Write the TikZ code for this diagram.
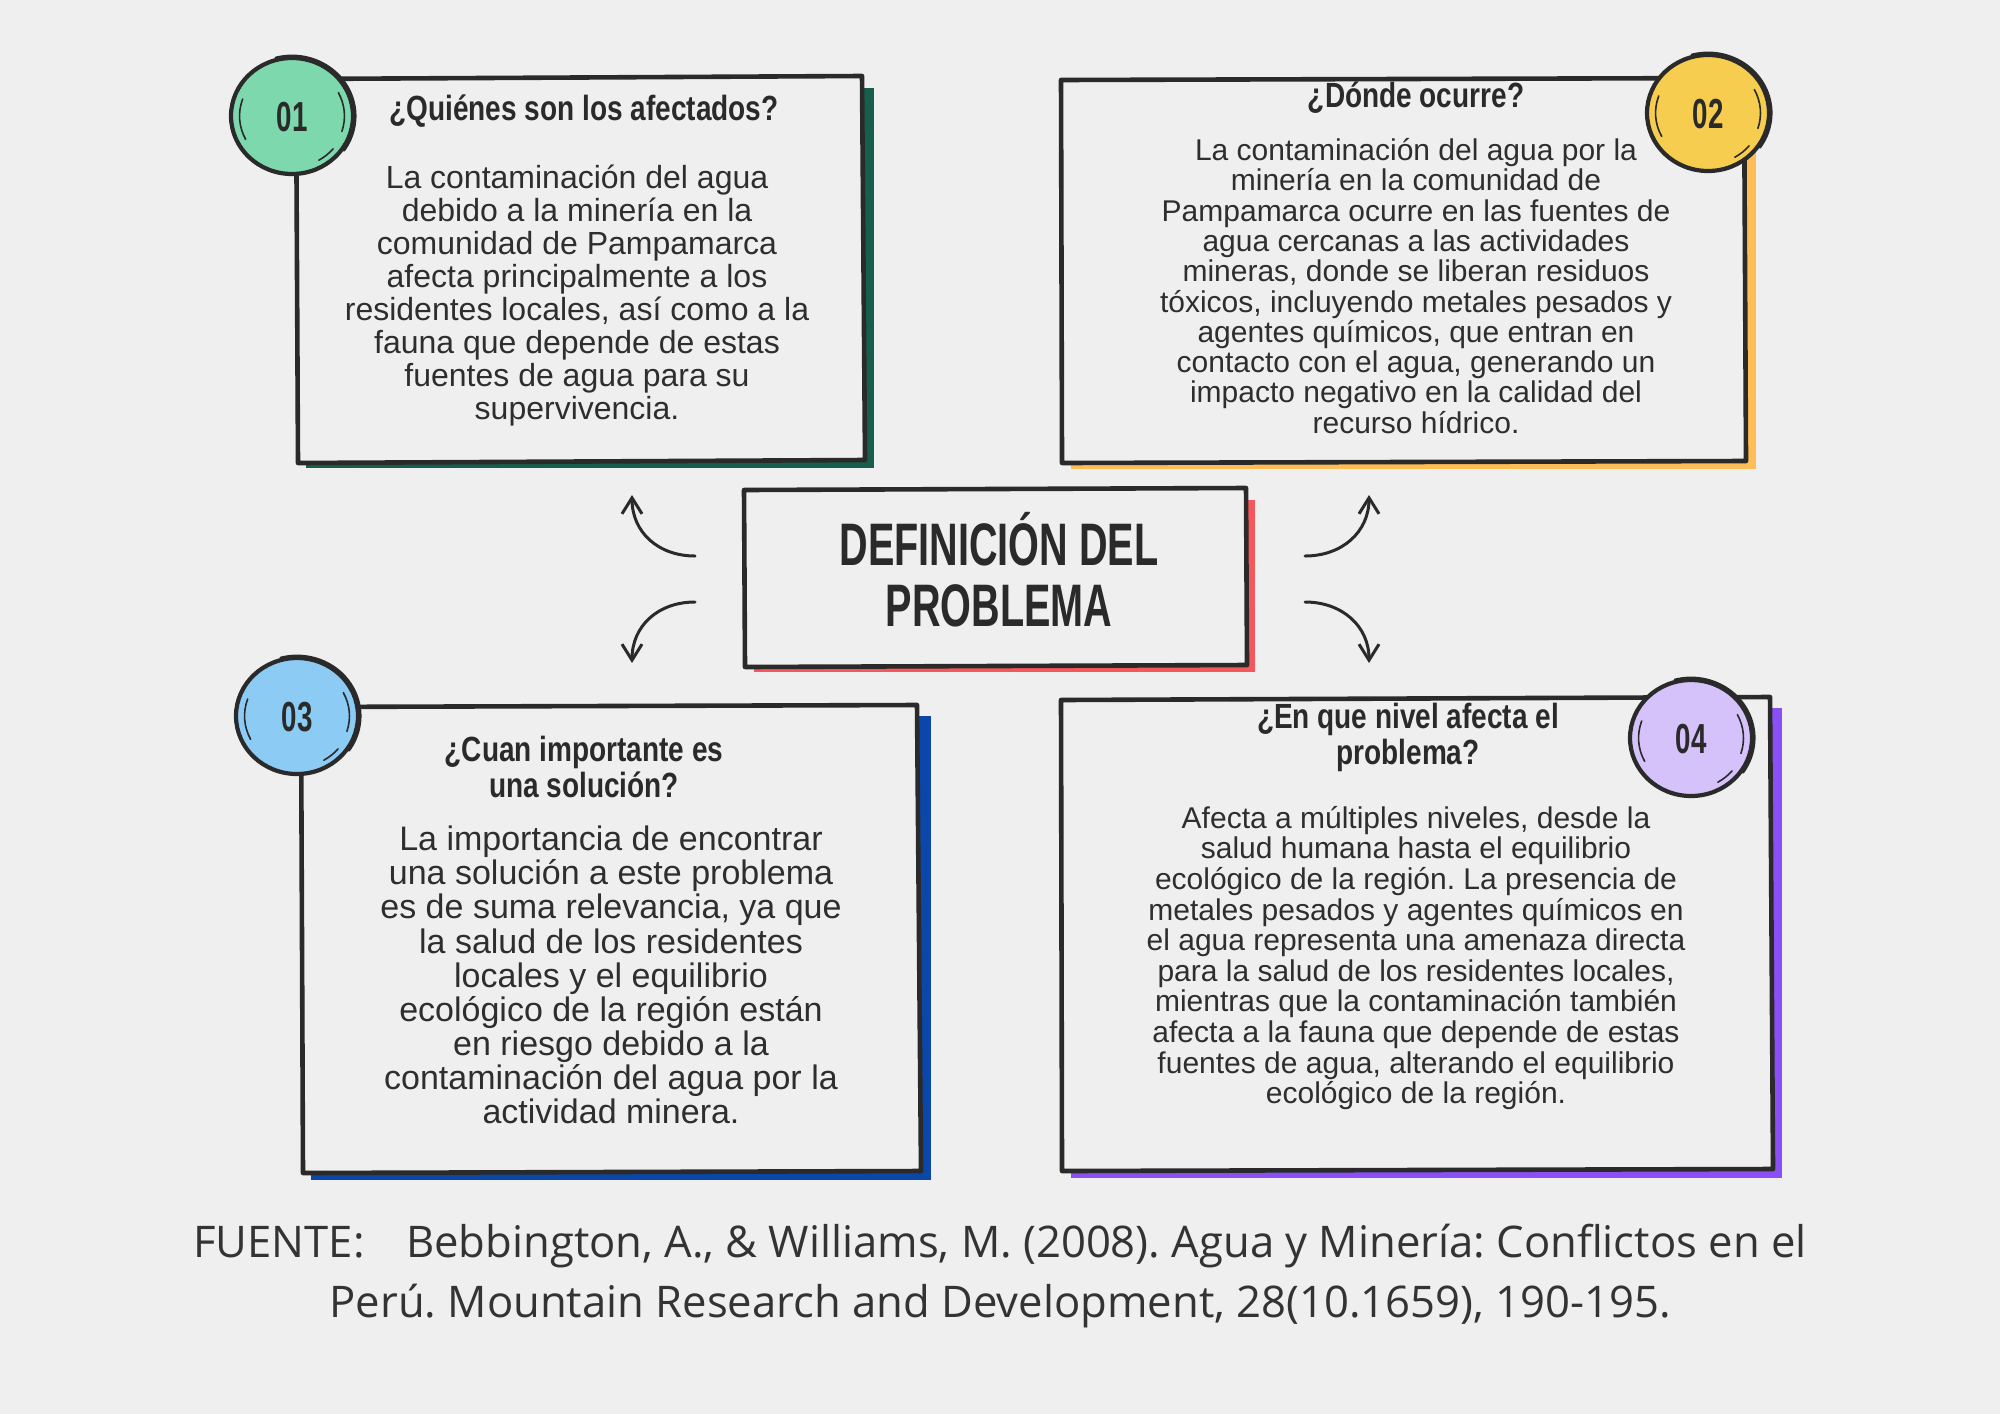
\documentclass[tikz,border=0pt]{standalone}
\usepackage{fontspec}
\setmainfont{Liberation Sans}
\newfontfamily\bodyf{Liberation Sans}
\newfontfamily\titlef[FakeStretch=0.8]{Liberation Sans}
\newfontfamily\headf[FakeStretch=0.66]{Liberation Sans}
\newfontfamily\footf{Open Sans}
\usetikzlibrary{arrows.meta}
\definecolor{bgc}{HTML}{EFEFEF}
\definecolor{ink}{HTML}{2A2A2A}
\definecolor{txt}{HTML}{2E2E2E}
\definecolor{grf}{HTML}{7DD8AE}
\definecolor{grs}{HTML}{175E4C}
\definecolor{yef}{HTML}{F6CD4F}
\definecolor{yes}{HTML}{FFBE55}
\definecolor{blf}{HTML}{8CCBF4}
\definecolor{bls}{HTML}{0A47A8}
\definecolor{puf}{HTML}{D5C2FB}
\definecolor{pus}{HTML}{8B50F5}
\definecolor{res}{HTML}{F5585C}
\definecolor{footc}{HTML}{333333}
\tikzset{
  x=0.5pt, y=-0.5pt,
  sk/.style={draw=ink, line width=2.3pt, line join=round, line cap=round, fill=bgc},
  ring/.style={draw=ink, line width=2.1pt},
  ringin/.style={draw=ink, line width=0.8pt, line cap=round},
  bodytxt/.style={align=center, text=txt, inner sep=0pt},
  ttl/.style={align=center, text=ink, inner sep=0pt, font=\titlef\bfseries\fontsize{17.5}{18}\selectfont},
  num/.style={text=ink, inner sep=0pt, font=\headf\bfseries\fontsize{21}{21}\selectfont},
  arr/.style={draw=ink, line width=1.5pt, line cap=round, -{Straight Barb[length=8pt,width=10pt,line width=1.5pt]}},
  foot/.style={text=footc, inner sep=0pt, font=\footf\fontsize{21.8}{26}\selectfont}
}
% badge: x, y, fill colour, number, node name
\newcommand{\mybadge}[5]{%
  \begin{scope}[shift={(#1,#2)}, x=30.5pt, y=29pt]
    \fill[#3] (0,0) circle[radius=1];
    \draw[ring] (0,0) circle[radius=1];
    \draw[ringin, line width=1.1pt] (105:1.04) arc[start angle=105, end angle=-35, radius=1.04];
    \draw[ringin] (208:0.86) arc[start angle=208, end angle=160, radius=0.86];
    \draw[ringin] (28:0.86) arc[start angle=28, end angle=-18, radius=0.86];
    \draw[ringin] (-60:0.88) arc[start angle=-60, end angle=-40, radius=0.88];
    \node[num] (#5) at (0,-0.02) {#4};
  \end{scope}}
\begin{document}
\frenchspacing
\begin{tikzpicture}
\fill[bgc] (0,0) rectangle (2000,1414);
\useasboundingbox (0,0) rectangle (2000,1414);

% ---------- box 1 ----------
\fill[grs] (306,88) rectangle (874,468);
\draw[sk] (296,79) -- (862,76) -- (865,460) -- (298,463) -- cycle;
\mybadge{292}{116}{grf}{01}{n1}
\node[ttl] (t1) at (584,111) {¿Quiénes son los afectados?};
\node[bodytxt, font=\bodyf\fontsize{16}{16.5}\selectfont] (b1) at (577,296)
 {La contaminación del agua\\debido a la minería en la\\comunidad de Pampamarca\\afecta principalmente a los\\residentes locales, así como a la\\fauna que depende de estas\\fuentes de agua para su\\supervivencia.};

% ---------- box 2 ----------
\fill[yes] (1071,90) rectangle (1756,469);
\draw[sk] (1061,80) -- (1744,78) -- (1746,461) -- (1062,463) -- cycle;
\mybadge{1708}{113}{yef}{02}{n2}
\node[ttl] (t2) at (1416,98) {¿Dónde ocurre?};
\node[bodytxt, font=\bodyf\fontsize{15}{15.15}\selectfont] (b2) at (1416,286)
 {La contaminación del agua por la\\minería en la comunidad de\\Pampamarca ocurre en las fuentes de\\agua cercanas a las actividades\\mineras, donde se liberan residuos\\tóxicos, incluyendo metales pesados y\\agentes químicos, que entran en\\contacto con el agua, generando un\\impacto negativo en la calidad del\\recurso hídrico.};

% ---------- central box ----------
\fill[res] (754,500) rectangle (1255,672);
\draw[sk] (744,490) -- (1246,488) -- (1247,665) -- (745,667) -- cycle;
\node[align=center, text=ink, inner sep=0pt, font=\headf\bfseries\fontsize{30}{30.5}\selectfont] (c) at (999,570) {DEFINICIÓN DEL\\PROBLEMA};

% ---------- arrows ----------
\coordinate (a1s) at (695,556); \coordinate (a1e) at (632,495);
\coordinate (a2s) at (695,602); \coordinate (a2e) at (632,663);
\coordinate (a3s) at (1305,556); \coordinate (a3e) at (1369,495);
\coordinate (a4s) at (1305,602); \coordinate (a4e) at (1369,663);
\draw[arr] (a1s) .. controls (658,556) and (632,532) .. (a1e);
\draw[arr] (a2s) .. controls (658,602) and (632,626) .. (a2e);
\draw[arr] (a3s) .. controls (1342,556) and (1369,532) .. (a3e);
\draw[arr] (a4s) .. controls (1342,602) and (1369,626) .. (a4e);

% ---------- box 3 ----------
\fill[bls] (311,716) rectangle (931,1180);
\draw[sk] (301,707) -- (917,705) -- (921,1171) -- (303,1173) -- cycle;
\mybadge{297}{716}{blf}{03}{n3}
\node[ttl] (t3) at (584,767) {¿Cuan importante es\\una solución?};
\node[bodytxt, font=\bodyf\fontsize{17}{17.05}\selectfont] (b3) at (611,975)
 {La importancia de encontrar\\una solución a este problema\\es de suma relevancia, ya que\\la salud de los residentes\\locales y el equilibrio\\ecológico de la región están\\en riesgo debido a la\\contaminación del agua por la\\actividad minera.};

% ---------- box 4 ----------
\fill[pus] (1071,708) rectangle (1782,1178);
\draw[sk] (1061,700) -- (1770,697) -- (1773,1169) -- (1062,1171) -- cycle;
\mybadge{1691}{738}{puf}{04}{n4}
\node[ttl] (t4) at (1408,737) {¿En que nivel afecta el\\problema?};
\node[bodytxt, font=\bodyf\fontsize{15}{15.3}\selectfont] (b4) at (1416,958)
 {Afecta a múltiples niveles, desde la\\salud humana hasta el equilibrio\\ecológico de la región. La presencia de\\metales pesados y agentes químicos en\\el agua representa una amenaza directa\\para la salud de los residentes locales,\\mientras que la contaminación también\\afecta a la fauna que depende de estas\\fuentes de agua, alterando el equilibrio\\ecológico de la región.};

% ---------- footer ----------
\node[foot] (f1) at (1000,1246) {FUENTE:\hspace{0.95em}Bebbington, A., \& Williams, M. (2008). Agua y Minería: Conflictos en el};
\node[foot] (f2) at (1000,1306) {Perú. Mountain Research and Development, 28(10.1659), 190-195.};
\end{tikzpicture}
\end{document}
